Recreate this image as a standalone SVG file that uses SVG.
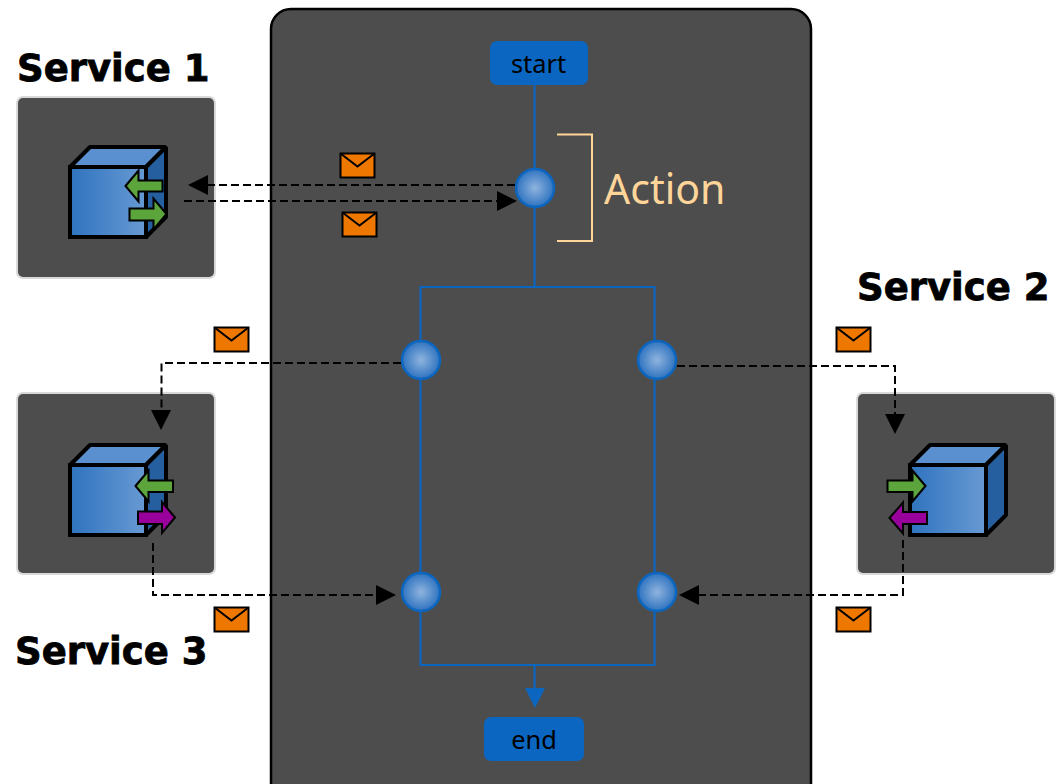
<svg xmlns="http://www.w3.org/2000/svg" width="1057" height="784" viewBox="0 0 1057 784">
<style>
.title{font-family:"DejaVu Sans",sans-serif;font-weight:700;font-size:37px;fill:#000;stroke:#000;stroke-width:.8}
.lbl{font-family:"Noto Sans",sans-serif;font-size:25.400px;fill:#000;text-anchor:middle}
.svc{fill:#4d4d4d;stroke:#d9d9d9;stroke-width:2}
.term{fill:#0a66c0}
.flow{fill:none;stroke:#0c66bf;stroke-width:2.200}
.node{fill:url(#ball);stroke:#0c66bf;stroke-width:2.500}
.msg{fill:none;stroke:#000;stroke-width:2;stroke-dasharray:8 4}
.head{fill:#000}
.env{fill:#ee7700;stroke:#000;stroke-width:2}
.envf{fill:none;stroke:#000;stroke-width:2}
.edge{stroke:#000;stroke-width:4;stroke-linejoin:bevel}
.arrow{stroke:#000;stroke-width:2;stroke-linejoin:miter}
.g{fill:#5ba53c}
.p{fill:#99009b}
</style>
<defs>
<radialGradient id="ball"><stop offset="0" stop-color="#8fb4de"/><stop offset="1" stop-color="#2f73c0"/></radialGradient>
<linearGradient id="face"><stop offset="0" stop-color="#2f73bf"/><stop offset="1" stop-color="#689ad3"/></linearGradient>
<g id="cube">
<polygon class="edge" fill="#5a90cf" points="0,20 20,0 96,0 76,20"/>
<polygon class="edge" fill="#255f9f" points="76,20 96,0 96,70 76,90"/>
<rect class="edge" style="stroke-linejoin:miter" fill="url(#face)" x="0" y="20" width="76" height="70"/>
</g>
<g id="mail">
<rect class="env" x="0" y="0" width="34" height="24"/>
<polyline class="envf" points="0,0 17,13 34,0"/>
</g>
</defs>

<g id="process"><rect x="271" y="9" width="540" height="800" rx="20" fill="#4d4d4d" stroke="#000" stroke-width="2.500"/></g>

<g id="service1">
<rect class="svc" x="17" y="97" width="198" height="181" rx="6"/>
<use href="#cube" x="70" y="147"/>
<polygon class="arrow g" points="125.500,186 138.500,170.500 138.500,180.500 162.500,180.500 162.500,191.500 138.500,191.500 138.500,201.500"/>
<polygon class="arrow g" points="166.500,214 153.500,198.500 153.500,208.500 129.500,208.500 129.500,220.500 153.500,220.500 153.500,229.500"/>
<text class="title" x="17" y="81">Service 1</text>
</g>
<g id="service3">
<rect class="svc" x="17" y="393" width="198" height="181" rx="6"/>
<use href="#cube" x="70" y="445"/>
<polygon class="arrow g" points="135.500,486 148.500,470.500 148.500,480.500 173,480.500 173,492 148.500,492 148.500,501.500"/>
<polygon class="arrow p" points="175,517.500 162,502 162,511.500 138,511.500 138,524 162,524 162,533"/>
<text class="title" x="15" y="664">Service 3</text>
</g>
<g id="service2">
<rect class="svc" x="857" y="393" width="198" height="181" rx="6"/>
<use href="#cube" x="910" y="445"/>
<polygon class="arrow g" points="925.500,486 912.500,470.500 912.500,480.500 887.500,480.500 887.500,492 912.500,492 912.500,501.500"/>
<polygon class="arrow p" points="889.500,518 903,502.500 903,512 927,512 927,524 903,524 903,533.500"/>
<text class="title" x="857" y="300">Service 2</text>
</g>

<g id="connectors">
<path class="flow" d="M534.500 85V287M420.500 287H654.500V665H420.500ZM534.500 665V690"/>
<polygon fill="#0c66bf" points="525,688 545,688 535,708"/>
<path class="msg" d="M515 185H206"/>
<polygon class="head" points="188,185 208,175 208,195"/>
<path class="msg" d="M184 201H498"/>
<polygon class="head" points="517,201 497,191 497,211"/>
<path class="msg" d="M401 363H161.500V411"/>
<polygon class="head" points="151,410 171,410 161,430"/>
<path class="msg" d="M153 543V595H378"/>
<polygon class="head" points="396,595 376,585 376,605"/>
<path class="msg" d="M677 366H895V415"/>
<polygon class="head" points="885,414 905,414 895,434"/>
<path class="msg" d="M903 540V595H698"/>
<polygon class="head" points="679,595 699,585 699,605"/>
<polyline fill="none" stroke="#ffd599" stroke-width="2" points="557,134.500 592,134.500 592,241 557,241"/>
</g>

<g id="start"><rect class="term" x="490" y="41" width="98" height="44" rx="7"/><text class="lbl" x="538.500" y="73">start</text></g>
<g id="end"><rect class="term" x="484" y="717" width="100" height="44" rx="7"/><text class="lbl" x="534" y="749">end</text></g>
<g id="action"><circle class="node" cx="535" cy="188" r="19"/><text x="604" y="204" font-family="Noto Sans,sans-serif" font-size="41" fill="#ffd599">Action</text></g>
<g id="gw1"><circle class="node" cx="421" cy="360" r="19"/></g>
<g id="gw2"><circle class="node" cx="657" cy="360" r="19"/></g>
<g id="gw3"><circle class="node" cx="421" cy="592" r="19"/></g>
<g id="gw4"><circle class="node" cx="657" cy="592" r="19"/></g>

<g id="messages">
<use href="#mail" x="340.500" y="153.500"/>
<use href="#mail" x="342.500" y="212.500"/>
<use href="#mail" x="214.500" y="327.500"/>
<use href="#mail" x="836.500" y="327.500"/>
<use href="#mail" x="214.500" y="607.500"/>
<use href="#mail" x="836.500" y="607.500"/>
</g>
</svg>
